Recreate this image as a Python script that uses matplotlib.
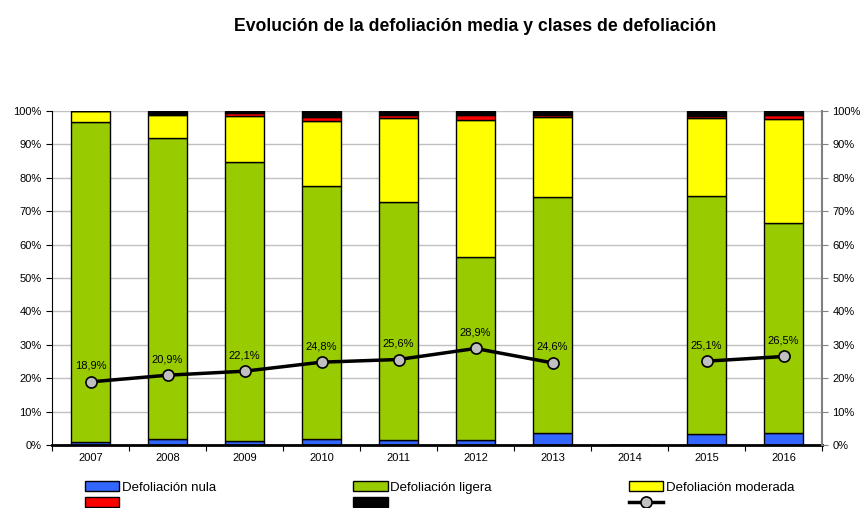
import numpy as np
import matplotlib.pyplot as plt

plt.rcParams['font.family'] = ['Liberation Sans', 'DejaVu Sans']

# porcentajes por clase de defoliacion (2014 sin datos)
years = ['2007', '2008', '2009', '2010', '2011', '2012', '2013', '2014', '2015', '2016']
nula = [1.0, 1.8, 1.2, 1.9, 1.5, 1.5, 3.5, 0, 3.2, 3.5]
ligera = [95.6, 90.0, 83.5, 75.6, 71.3, 54.8, 70.8, 0, 71.3, 63.0]
moderada = [3.4, 6.9, 13.9, 19.4, 25.0, 40.9, 24.0, 0, 23.3, 31.0]
grave = [0.0, 0.4, 0.9, 1.4, 1.0, 1.7, 0.5, 0, 0.8, 1.3]
muerto = [0.0, 0.9, 0.5, 1.7, 1.2, 1.1, 1.2, 0, 1.4, 1.2]
media = [18.9, 20.9, 22.1, 24.8, 25.6, 28.9, 24.6, np.nan, 25.1, 26.5]

series = [
    (nula, '#3366ff', 'Defoliación nula'),
    (ligera, '#99cc00', 'Defoliación ligera'),
    (moderada, '#ffff00', 'Defoliación moderada'),
    (grave, '#ff0000', ''),
    (muerto, '#000000', ''),
]

fig = plt.figure(figsize=(8.63, 5.08), dpi=100)
ax = fig.add_axes([0.0603, 0.124, 0.8922, 0.6575])

x = np.arange(len(years))
bottom = np.zeros(len(years))
handles = []
for vals, col, lab in series:
    vals = np.array(vals, dtype=float)
    b = ax.bar(x, vals, width=0.5, bottom=bottom, color=col,
               edgecolor='black', linewidth=1, zorder=2, label=lab)
    bottom += vals
    handles.append(b)

ln, = ax.plot(x, media, color='black', lw=2.5, marker='o', ms=8,
              mfc='#c0c0c0', mec='black', mew=1.2, zorder=4, label='')
for xi, v in zip(x, media):
    if not np.isnan(v):
        ax.annotate(('%.1f%%' % v).replace('.', ','), (xi, v),
                    xytext=(0, 8), textcoords='offset points',
                    ha='center', va='bottom', fontsize=8, zorder=5)

ax.set_xlim(-0.5, len(years) - 0.5)
ax.set_ylim(0, 100)
ax.set_yticks(np.arange(0, 101, 10))
ax.set_yticklabels(['%d%%' % t for t in range(0, 101, 10)], fontsize=8)
ax.yaxis.grid(True, color='#c0c0c0', lw=1, zorder=0)
ax.set_axisbelow(True)

# marcas del eje x entre categorias, etiquetas centradas
ax.set_xticks(np.arange(-0.5, len(years), 1.0))
ax.set_xticklabels([])
ax.set_xticks(x, minor=True)
ax.set_xticklabels(years, minor=True, fontsize=8)
ax.tick_params(axis='x', which='minor', length=0, pad=6)
ax.tick_params(axis='x', which='major', length=4, direction='out')
ax.tick_params(axis='y', length=4, direction='out')

ax.spines['top'].set_visible(False)
ax.spines['right'].set_visible(False)
ax.spines['bottom'].set_linewidth(2)

ax2 = ax.twinx()
ax2.set_ylim(0, 100)
ax2.set_yticks(np.arange(0, 101, 10))
ax2.set_yticklabels(['%d%%' % t for t in range(0, 101, 10)], fontsize=8)
ax2.tick_params(axis='y', length=4, direction='out', color='#808080')
ax2.spines['right'].set_color('#808080')
ax2.spines['right'].set_linewidth(1.5)
for s in ['top', 'left', 'bottom']:
    ax2.spines[s].set_visible(False)

fig.suptitle('Evolución de la defoliación media y clases de defoliación',
             x=0.55, y=0.965, fontsize=12.7, fontweight='bold')

order = [handles[0], handles[3], handles[1], handles[4], handles[2], ln]
labels = ['Defoliación nula', '', 'Defoliación ligera', '', 'Defoliación moderada', '']
fig.legend(order, labels, ncol=3, loc='upper left', bbox_to_anchor=(0.0985, 0.053),
           frameon=False, fontsize=9.5, handlelength=2.6, handleheight=0.8,
           handletextpad=0.2, columnspacing=10.4, labelspacing=0.25,
           borderaxespad=0, borderpad=0)

fig.savefig('out.png', dpi=100)
